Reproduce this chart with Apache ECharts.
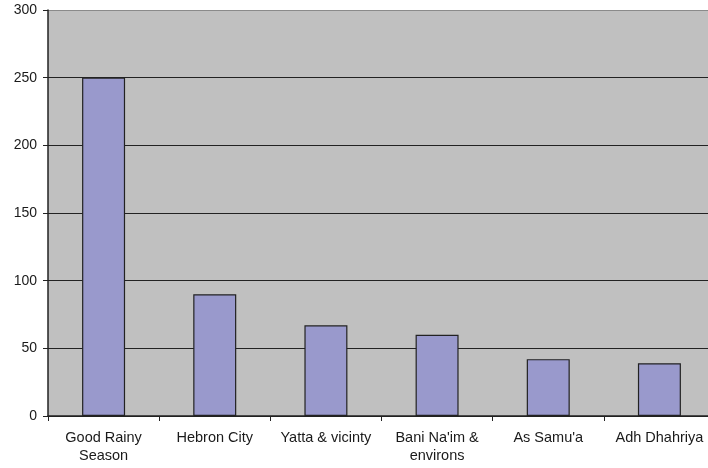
<!DOCTYPE html>
<html><head><meta charset="utf-8">
<script src="https://cdn.jsdelivr.net/npm/echarts@6/dist/echarts.min.js"></script>
<style>html,body{margin:0;padding:0;background:#fff}#c{width:708px;height:468px}</style>
</head><body><div id="c"></div>
<script>
const categories = ["Good Rainy\nSeason", "Hebron City", "Yatta & vicinty", "Bani Na'im &\nenvirons", "As Samu'a", "Adh Dhahriya"];
const values = [250, 90, 67, 60, 42, 39];
const yTicks = [0, 50, 100, 150, 200, 250, 300];

const chart = echarts.init(document.getElementById('c'));
chart.setOption({
  animation: false,
  backgroundColor: '#ffffff',
  grid: { left: 48, top: 10, bottom: 52, width: 667, outerBoundsMode: 'none', show: true, backgroundColor: '#c0c0c0', borderWidth: 0 },
  xAxis: {
    type: 'category', data: categories,
    axisLine: { lineStyle: { color: '#222', width: 1.5 } },
    axisTick: { show: true, length: 5, lineStyle: { color: '#222' } },
    axisLabel: { color: '#1a1a1a', fontFamily: 'Liberation Sans, Arial', fontSize: 14.5, lineHeight: 18, margin: 13, interval: 0 }
  },
  yAxis: {
    type: 'value', min: yTicks[0], max: yTicks[yTicks.length - 1], interval: 50,
    axisLine: { show: true, lineStyle: { color: '#222', width: 1.5 } },
    axisTick: { show: true, length: 5, lineStyle: { color: '#222' } },
    axisLabel: { color: '#1a1a1a', fontFamily: 'Liberation Sans, Arial', fontSize: 14, margin: 11 },
    splitLine: { show: true, lineStyle: { color: ['#222', '#222', '#222', '#222', '#222', '#222', '#8a8a8a'], width: 1.2 } }
  },
  series: [{
    type: 'bar', data: values, barWidth: 43,
    itemStyle: { color: '#9999cc', borderColor: '#222', borderWidth: 1.2 }
  }]
});
</script></body></html>
